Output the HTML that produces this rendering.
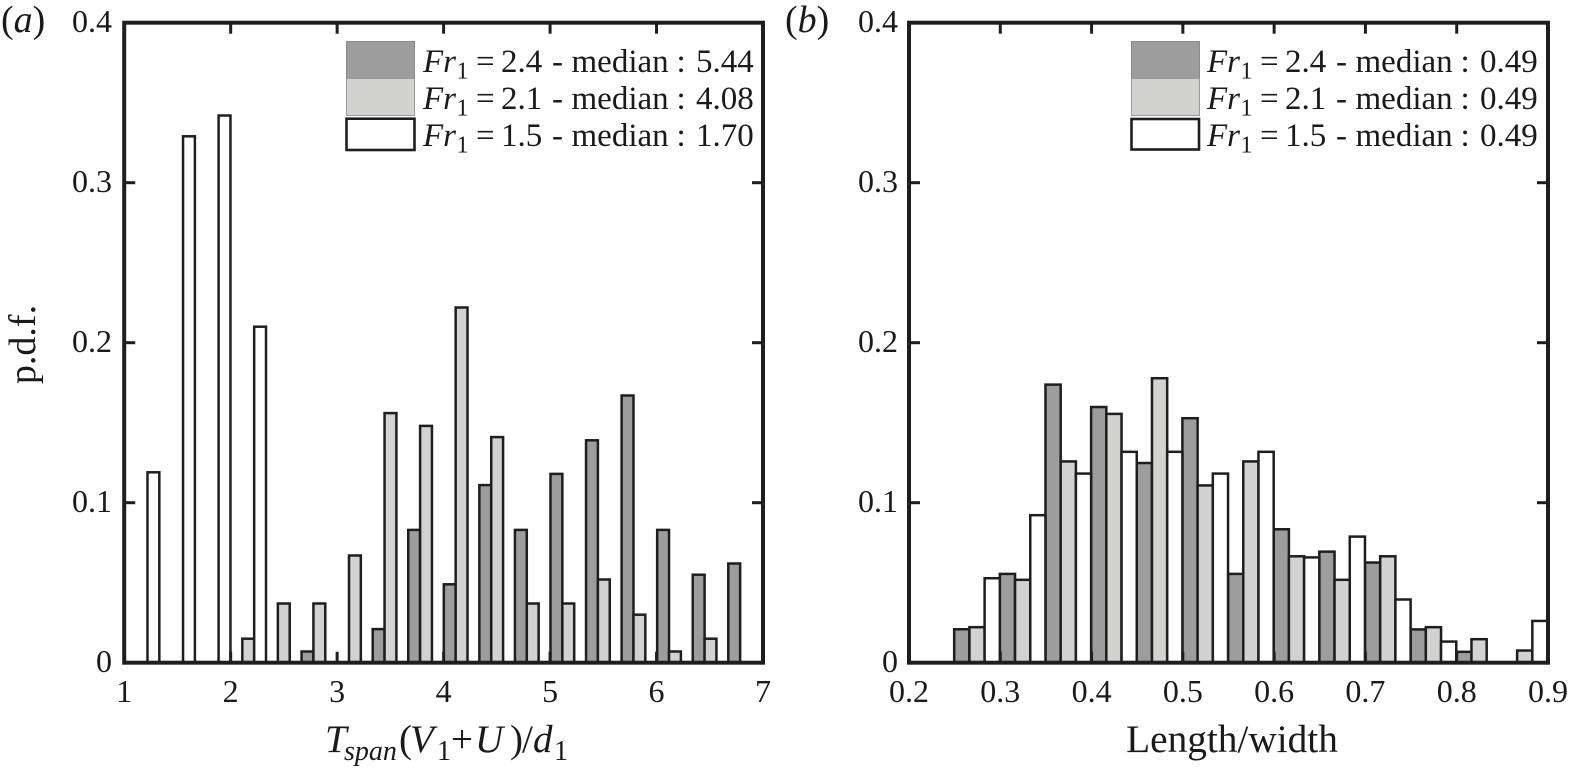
<!DOCTYPE html>
<html lang="en">
<head>
<meta charset="utf-8">
<title>Histogram panels</title>
<style>
html,body{margin:0;padding:0;background:#fff;}
svg{display:block;}
text{font-family:"Liberation Serif",serif;fill:#1a1a1a;}
.leg{font-size:33px;}
.i{font-style:italic;}
</style>
</head>
<body>
<svg id="chart" xmlns="http://www.w3.org/2000/svg" width="1570" height="773" viewBox="0 0 1570 773">
  <g id="panel-a"></g>
  <g id="panel-b"></g>

  <text x="1" y="32" font-size="38">(<tspan class="i">a</tspan>)</text>
  <text x="785" y="32" font-size="38">(<tspan class="i">b</tspan>)</text>

  <text transform="translate(35,344.5) rotate(-90)" text-anchor="middle" font-size="38">p.d.f.</text>

  <text y="752" font-size="39"><tspan class="i" x="325">T</tspan><tspan class="i" font-size="28" x="344" dy="8">span</tspan><tspan x="399" dy="-8">(</tspan><tspan class="i" x="410">V</tspan><tspan font-size="28" x="437" dy="8">1</tspan><tspan x="451" dy="-8">+</tspan><tspan class="i" x="475">U</tspan><tspan x="510">)</tspan><tspan x="522">/</tspan><tspan class="i" x="533">d</tspan><tspan font-size="28" x="554" dy="8">1</tspan></text>
  <text x="1232" y="752" text-anchor="middle" font-size="39.3">Length/width</text>

  <g>
    <rect x="346.5" y="41.5" width="68" height="37" fill="#9d9d9d" stroke="#8a8a8a" stroke-width="1"/>
    <rect x="346.5" y="78.5" width="68" height="37" fill="#d2d2d1" stroke="#9a9a9a" stroke-width="1"/>
    <rect x="346.5" y="118.7" width="68" height="31.3" fill="#fff" stroke="#1e1e1e" stroke-width="2.6"/>
    <text class="leg" y="72"><tspan class="i" x="423">Fr</tspan><tspan font-size="24" x="456.5" dy="6.5">1</tspan><tspan x="476" dy="-6.5">=</tspan><tspan x="501">2.4</tspan><tspan x="552">-</tspan><tspan x="571.5">median</tspan><tspan x="676.5">:</tspan><tspan x="696">5.44</tspan></text>
    <text class="leg" y="109"><tspan class="i" x="423">Fr</tspan><tspan font-size="24" x="456.5" dy="6.5">1</tspan><tspan x="476" dy="-6.5">=</tspan><tspan x="501">2.1</tspan><tspan x="552">-</tspan><tspan x="571.5">median</tspan><tspan x="676.5">:</tspan><tspan x="696">4.08</tspan></text>
    <text class="leg" y="146"><tspan class="i" x="423">Fr</tspan><tspan font-size="24" x="456.5" dy="6.5">1</tspan><tspan x="476" dy="-6.5">=</tspan><tspan x="501">1.5</tspan><tspan x="552">-</tspan><tspan x="571.5">median</tspan><tspan x="676.5">:</tspan><tspan x="696">1.70</tspan></text>
  </g>
  <g>
    <rect x="1131.5" y="41.5" width="68" height="37" fill="#9d9d9d" stroke="#8a8a8a" stroke-width="1"/>
    <rect x="1131.5" y="78.5" width="68" height="37" fill="#d2d2d1" stroke="#9a9a9a" stroke-width="1"/>
    <rect x="1131.5" y="119" width="67.5" height="30.5" fill="#fff" stroke="#1e1e1e" stroke-width="2.6"/>
    <text class="leg" y="72"><tspan class="i" x="1207">Fr</tspan><tspan font-size="24" x="1240.5" dy="6.5">1</tspan><tspan x="1260" dy="-6.5">=</tspan><tspan x="1285">2.4</tspan><tspan x="1336">-</tspan><tspan x="1355.5">median</tspan><tspan x="1460.5">:</tspan><tspan x="1480">0.49</tspan></text>
    <text class="leg" y="109"><tspan class="i" x="1207">Fr</tspan><tspan font-size="24" x="1240.5" dy="6.5">1</tspan><tspan x="1260" dy="-6.5">=</tspan><tspan x="1285">2.1</tspan><tspan x="1336">-</tspan><tspan x="1355.5">median</tspan><tspan x="1460.5">:</tspan><tspan x="1480">0.49</tspan></text>
    <text class="leg" y="146"><tspan class="i" x="1207">Fr</tspan><tspan font-size="24" x="1240.5" dy="6.5">1</tspan><tspan x="1260" dy="-6.5">=</tspan><tspan x="1285">1.5</tspan><tspan x="1336">-</tspan><tspan x="1355.5">median</tspan><tspan x="1460.5">:</tspan><tspan x="1480">0.49</tspan></text>
  </g>
</svg>
<script>
// Panel (a) data: bin centres and p.d.f. per series
const binsA = [1.163,1.497,1.831,2.165,2.499,2.833,3.167,3.501,3.835,4.169,4.503,4.837,5.171,5.505,5.839,6.173,6.507,6.841];
const darkA  = [0,0,0,0,0,0.007,0,0.021,0.083,0.049,0.111,0.083,0.118,0.139,0.167,0.083,0.055,0.062];
const lightA = [0,0,0,0.015,0.037,0.037,0.067,0.156,0.148,0.222,0.141,0.037,0.037,0.052,0.03,0.007,0.015,0];
const whiteA = [0.119,0.329,0.342,0.21,0,0,0,0,0,0,0,0,0,0,0,0,0,0];
// Panel (b) data
const binsB = [0.2745,0.3245,0.3745,0.4245,0.4745,0.5245,0.5745,0.6245,0.6745,0.7245,0.7745,0.8245,0.8745];
const darkB  = [0.0209,0.0555,0.1738,0.1598,0.1248,0.1528,0.0555,0.0834,0.0694,0.0626,0.0208,0.0068,0];
const lightB = [0.0222,0.0518,0.1258,0.1555,0.1778,0.1108,0.1258,0.0665,0.0518,0.0665,0.0222,0.0147,0.0076];
const whiteB = [0.0528,0.0922,0.1182,0.1318,0.1318,0.1182,0.1318,0.0658,0.0788,0.0395,0.0132,0,0.0261];
// Tick labels
const xTicksA = ['1','2','3','4','5','6','7'];
const xTicksB = ['0.2','0.3','0.4','0.5','0.6','0.7','0.8','0.9'];
const yTicks = ['0','0.1','0.2','0.3','0.4'];

const NS = 'http://www.w3.org/2000/svg';
const INK = '#1e1e1e';

function makeEl(tag, attrs, parent) {
  const el = document.createElementNS(NS, tag);
  for (const k in attrs) el.setAttribute(k, attrs[k]);
  parent.appendChild(el);
  return el;
}

function drawPanel(gId, left, right, xMin, xMax, bins, dark, light, white, xTicks, yLabelEnd) {
  const g = document.getElementById(gId);
  const top = 22.7, bottom = 662.7, yMax = 0.4, tickLen = 11;
  const xScale = v => left + (v - xMin) / (xMax - xMin) * (right - left);
  const yScale = v => bottom - v / yMax * (bottom - top);
  const binW = bins[1] - bins[0];
  const barW = binW / 3;
  const seriesList = [
    {vals: dark,  off: -1, fill: '#9d9d9d', key: 'dark'},
    {vals: light, off: 0,  fill: '#d2d2d1', key: 'light'},
    {vals: white, off: 1,  fill: '#ffffff', key: 'white'}
  ];
  seriesList.forEach(s => {
    s.vals.forEach((v, i) => {
      if (!(v > 0)) return;
      const x0 = xScale(bins[i] + (s.off - 0.5) * barW);
      const x1 = xScale(bins[i] + (s.off + 0.5) * barW);
      const bar = makeEl('rect', {x: x0, y: yScale(v), width: x1 - x0, height: bottom - yScale(v), fill: s.fill, stroke: INK, 'stroke-width': 2.5}, g);
      
      
    });
  });
  // frame
  const frame = makeEl('rect', {x: left, y: top, width: right - left, height: bottom - top, fill: 'none', stroke: INK, 'stroke-width': 4}, g);
  
  
  // x ticks
  xTicks.forEach(t => {
    const x = xScale(parseFloat(t));
    const tb = makeEl('line', {x1: x, x2: x, y1: bottom, y2: bottom - tickLen, stroke: INK, 'stroke-width': 3}, g);
    
    
    const tt = makeEl('line', {x1: x, x2: x, y1: top, y2: top + tickLen, stroke: INK, 'stroke-width': 3}, g);
    
    
    const lab = makeEl('text', {x: x, y: 702, 'text-anchor': 'middle', 'font-size': 32}, g);
    lab.textContent = t;
    
    
  });
  // y ticks
  yTicks.forEach(t => {
    const y = yScale(parseFloat(t));
    const tl = makeEl('line', {x1: left, x2: left + tickLen, y1: y, y2: y, stroke: INK, 'stroke-width': 3}, g);
    
    
    const tr = makeEl('line', {x1: right, x2: right - tickLen, y1: y, y2: y, stroke: INK, 'stroke-width': 3}, g);
    
    
    const lab = makeEl('text', {x: yLabelEnd, y: y + 9.5, 'text-anchor': 'end', 'font-size': 32}, g);
    lab.textContent = t;
    
    
  });
}

drawPanel('panel-a', 124.2, 763, 1, 7, binsA, darkA, lightA, whiteA, xTicksA, 112);
drawPanel('panel-b', 909, 1548, 0.2, 0.9, binsB, darkB, lightB, whiteB, xTicksB, 898);
</script>
</body>
</html>
